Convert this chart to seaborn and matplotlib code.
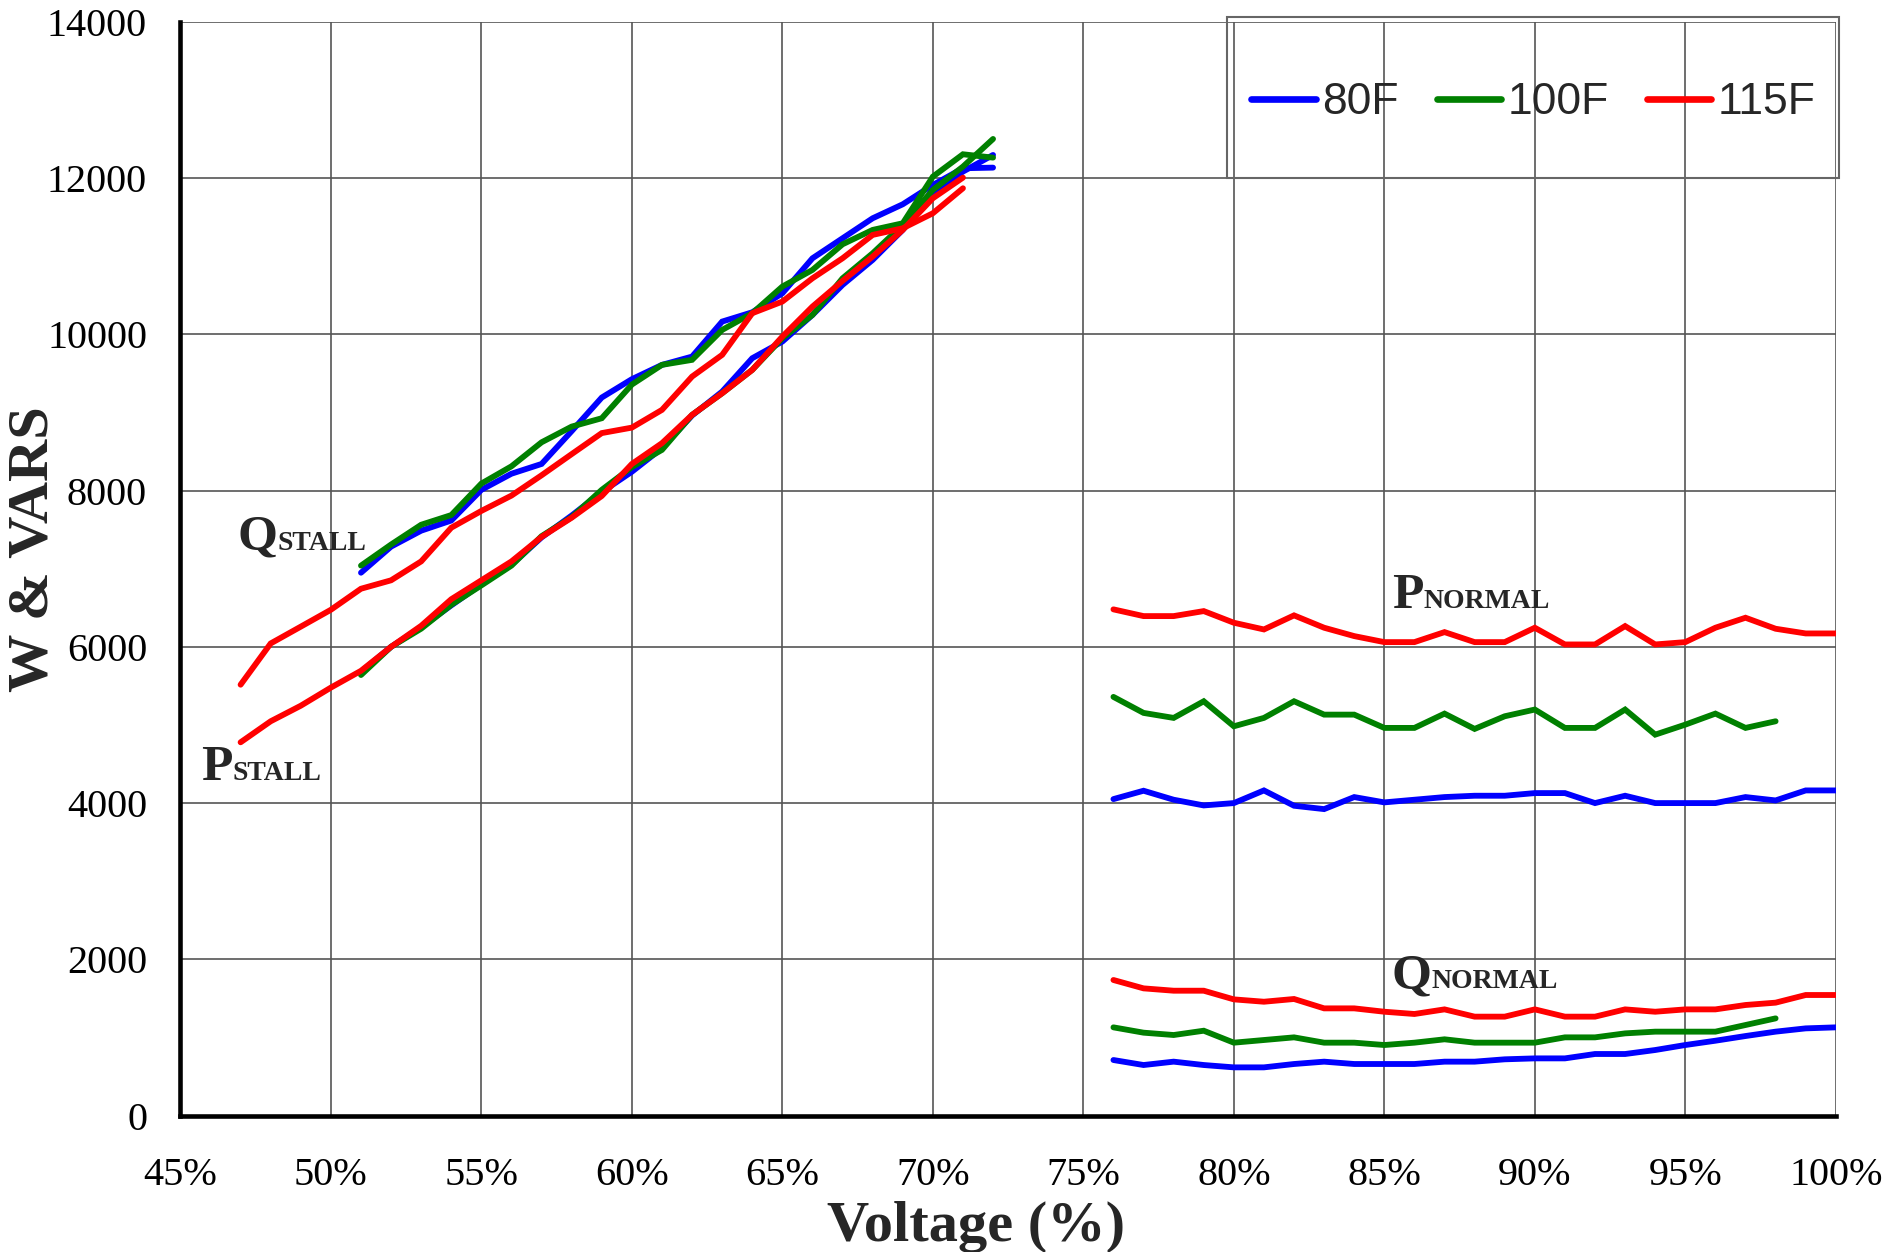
import numpy as np
import pandas as pd
import matplotlib
matplotlib.use("Agg")
import matplotlib.pyplot as plt
import seaborn as sns
from matplotlib.patches import Rectangle

# ---------------- data ----------------
temps = ["80F", "100F", "115F"]
colors = {"80F": "#0000FF", "100F": "#008000", "115F": "#FF0000"}

v_stall_80 = list(range(51, 73))
v_stall_100 = list(range(51, 73))
v_stall_115 = list(range(47, 72))
v_norm_80 = list(range(76, 101))
v_norm_100 = list(range(76, 99))
v_norm_115 = list(range(76, 101))

q_stall_80 = [6948, 7282, 7486, 7616, 8009, 8215, 8340, 8760, 9190, 9425, 9608,
              9714, 10162, 10281, 10524, 10972, 11228, 11484, 11663, 11910, 12124, 12132]
p_stall_80 = [5680, 6000, 6250, 6530, 6800, 7050, 7400, 7680, 7980, 8240, 8542,
              8960, 9266, 9693, 9906, 10247, 10631, 10951, 11335, 11804, 12081, 12294]
q_stall_100 = [7039, 7309, 7562, 7686, 8089, 8310, 8617, 8818, 8925, 9356, 9608,
               9672, 10055, 10269, 10610, 10823, 11151, 11335, 11420, 12017, 12303, 12260]
p_stall_100 = [5639, 6000, 6232, 6538, 6786, 7039, 7416, 7659, 8009, 8300, 8520,
               8968, 9245, 9544, 9949, 10247, 10716, 11036, 11399, 11847, 12145, 12499]
q_stall_115 = [5515, 6043, 6258, 6474, 6743, 6851, 7093, 7524, 7739, 7935, 8195,
               8466, 8735, 8805, 9032, 9458, 9736, 10269, 10418, 10716, 10972, 11271,
               11356, 11548, 11868]
p_stall_115 = [4778, 5047, 5246, 5478, 5693, 6000, 6269, 6609, 6851, 7093, 7406,
               7652, 7930, 8340, 8606, 8968, 9245, 9544, 9970, 10354, 10682, 10994,
               11335, 11740, 12004]

p_norm_80 = [4051, 4158, 4043, 3970, 4000, 4162, 3966, 3923, 4077, 4009, 4043, 4077,
             4094, 4094, 4128, 4128, 4000, 4094, 4000, 4000, 4000, 4077, 4034, 4162, 4162]
p_norm_100 = [5359, 5154, 5090, 5303, 4983, 5090, 5303, 5132, 5132, 4962, 4962, 5145,
              4949, 5111, 5197, 4962, 4962, 5197, 4876, 5004, 5145, 4962, 5047]
p_norm_115 = [6479, 6393, 6393, 6457, 6308, 6222, 6402, 6244, 6137, 6060, 6060, 6188,
              6060, 6060, 6244, 6030, 6030, 6265, 6030, 6060, 6244, 6372, 6231, 6171, 6171]
q_norm_80 = [712, 648, 691, 648, 618, 618, 661, 691, 661, 661, 661, 691, 691, 721,
             733, 733, 789, 789, 840, 904, 959, 1019, 1075, 1117, 1130]
q_norm_100 = [1130, 1062, 1032, 1087, 934, 968, 1002, 934, 934, 904, 934, 977, 934,
              934, 934, 1002, 1002, 1053, 1075, 1075, 1075, 1160, 1245]
q_norm_115 = [1736, 1629, 1599, 1599, 1488, 1458, 1493, 1373, 1373, 1330, 1301, 1360,
              1267, 1267, 1360, 1267, 1267, 1360, 1330, 1360, 1360, 1416, 1446, 1544, 1544]

x_ticks = [45, 50, 55, 60, 65, 70, 75, 80, 85, 90, 95, 100]
y_ticks = [0, 2000, 4000, 6000, 8000, 10000, 12000, 14000]

segments = [
    ("80F", "Qstall", v_stall_80, q_stall_80),
    ("80F", "Pstall", v_stall_80, p_stall_80),
    ("80F", "Pnorm", v_norm_80, p_norm_80),
    ("80F", "Qnorm", v_norm_80, q_norm_80),
    ("100F", "Qstall", v_stall_100, q_stall_100),
    ("100F", "Pstall", v_stall_100, p_stall_100),
    ("100F", "Pnorm", v_norm_100, p_norm_100),
    ("100F", "Qnorm", v_norm_100, q_norm_100),
    ("115F", "Qstall", v_stall_115, q_stall_115),
    ("115F", "Pstall", v_stall_115, p_stall_115),
    ("115F", "Pnorm", v_norm_115, p_norm_115),
    ("115F", "Qnorm", v_norm_115, q_norm_115),
]
rows = []
for t, seg, xs, ys in segments:
    for x, y in zip(xs, ys):
        rows.append({"temp": t, "seg": t + seg, "volt": x, "val": y})
df = pd.DataFrame(rows)

# ---------------- style ----------------
sns.set_style("white")
plt.rcParams["font.family"] = ["Liberation Serif", "DejaVu Serif"]

fig = plt.figure(figsize=(18.85, 12.52), dpi=100)
ax = fig.add_axes([0.0957, 0.1089, 0.8782, 0.8738])

sns.lineplot(data=df, x="volt", y="val", hue="temp", hue_order=temps,
             units="seg", estimator=None, sort=False, palette=colors,
             linewidth=4.2, ax=ax, legend=True)
for ln in ax.lines:
    ln.set_linewidth(4.2)
    ln.set_solid_joinstyle("miter")

ax.set_xlim(45, 100)
ax.set_ylim(0, 14000)
ax.set_xticks(x_ticks)
ax.set_xticklabels([f"{v}%" for v in x_ticks])
ax.set_yticks(y_ticks)
ax.set_yticklabels([str(v) for v in y_ticks])

ax.grid(True, color="#555555", linewidth=1.2)
ax.set_axisbelow(True)
for s in ["top", "right"]:
    ax.spines[s].set_visible(False)
for s in ["left", "bottom"]:
    ax.spines[s].set_linewidth(3.3)
    ax.spines[s].set_color("black")
    ax.spines[s].set_zorder(5)

ax.tick_params(axis="both", which="major", direction="out", length=11, width=2.5,
               color="black", labelcolor="black")
ax.tick_params(axis="x", labelsize=29, pad=19)
ax.tick_params(axis="y", labelsize=29, pad=13)

ax.set_xlabel("Voltage (%)", fontsize=42, fontweight="bold", va="baseline")
ax.xaxis.set_label_coords(0.4807, -0.1146)
ax.set_ylabel("W & VARS", fontsize=42, fontweight="bold", va="center")
ax.yaxis.set_label_coords(-0.089, 0.518)

# legend
handles, labels = ax.get_legend_handles_labels()
ax.get_legend().remove()
for h in handles:
    h.set_linewidth(4.8)
fig.legend(handles, labels, loc="center", bbox_to_anchor=(0.8135, 0.918),
           bbox_transform=fig.transFigure, ncol=3, frameon=False,
           prop={"family": "Liberation Sans", "size": 32},
           handlelength=1.45, handletextpad=0.15, columnspacing=0.85,
           borderpad=0, borderaxespad=0)
fig.patches.append(Rectangle((0.6509, 0.8578), 0.3247, 0.1286,
                             transform=fig.transFigure, fill=False,
                             edgecolor="#666666", linewidth=1.5, zorder=10))

# annotations (big letter + small-caps subscript)
labels_txt = [("Q", "STALL", 46.9, 7240), ("P", "STALL", 45.69, 4290),
              ("P", "NORMAL", 85.25, 6500), ("Q", "NORMAL", 85.25, 1630)]
big = []
for b, s, x, y in labels_txt:
    t = ax.text(x, y, b, fontsize=37, fontweight="bold", va="baseline", ha="left",
                zorder=6)
    big.append((t, s, y))
fig.canvas.draw()
r = fig.canvas.get_renderer()
inv = ax.transData.inverted()
for t, s, y in big:
    bb = t.get_window_extent(r)
    xr = inv.transform((bb.x1, bb.y0))[0]
    ax.text(xr, y, s, fontsize=20, fontweight="bold", va="baseline", ha="left",
            zorder=6)

fig.savefig("out.png", dpi=100)
